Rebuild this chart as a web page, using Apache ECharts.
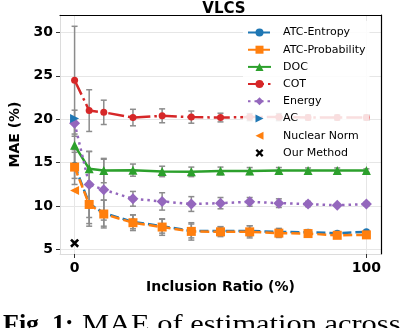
<!DOCTYPE html>
<html>
<head>
<meta charset="utf-8">
<script src="https://cdn.jsdelivr.net/npm/echarts@6/dist/echarts.min.js"></script>
<style>
  html, body { margin: 0; padding: 0; background: #fff; }
  #chart { width: 402px; height: 328px; }
</style>
</head>
<body>
<div id="chart"></div>
<script>
// inclusion ratio (%)
var xs = [0, 5, 10, 20, 30, 40, 50, 60, 70, 80, 90, 100];
var xTicks = [0, 100];
var yTicks = [5, 10, 15, 20, 25, 30];

// MAE (%) per method, with error (half-width)
var atcEntropy = [14.7, 10.3, 9.2, 8.2, 7.7, 7.15, 7.15, 7.15, 7.05, 7.0, 6.9, 7.05];
var atcEntropyErr = [1.5, 2.3, 1.5, 0.8, 0.8, 0.8, 0.5, 0.6, 0.4, 0.3, 0.2, 0.2];
var atcProb = [14.5, 10.2, 9.1, 8.1, 7.6, 7.1, 7.05, 7.05, 6.9, 6.85, 6.65, 6.7];
var atcProbErr = [2.0, 2.5, 1.6, 0.9, 0.95, 1.0, 0.55, 0.7, 0.5, 0.3, 0.15, 0.15];
var doc = [17.0, 14.3, 14.1, 14.15, 14.0, 13.95, 14.05, 14.05, 14.1, 14.1, 14.1, 14.1];
var docErr = [2.5, 2.0, 1.4, 0.7, 0.6, 0.55, 0.45, 0.4, 0.35, 0.3, 0.3, 0.2];
var cot = [24.5, 21.0, 20.8, 20.2, 20.4, 20.25, 20.2, 20.25, 20.25, 20.2, 20.2, 20.2];
var cotErr = [6.2, 2.4, 1.4, 0.95, 0.8, 0.7, 0.5, 0.4, 0.4, 0.3, 0.3, 0.3];
var energy = [19.55, 12.5, 11.9, 10.85, 10.55, 10.25, 10.35, 10.5, 10.35, 10.25, 10.1, 10.25];
var energyErr = [1.5, 3.8, 3.5, 0.85, 1.0, 0.85, 0.65, 0.5, 0.5, 0.3, 0.1, 0.2];

// single-point methods at ratio 0
var acVal = [20.1];
var nuclearVal = [11.8];
var oursVal = [5.75];

var C = {
	blue : '#1f77b4',
	orange : '#ff7f0e',
	green : '#2ca02c',
	red : '#d62728',
	purple : '#9467bd'
};
var xShape = 'path://M2,0 L5,3 L8,0 L10,2 L7,5 L10,8 L8,10 L5,7 L2,10 L0,8 L3,5 L0,2 Z';

function pairs(vals) {
	return vals.map(function(v, i) { return [xs[i], v]; });
}
function errData(vals, errs) {
	return xs.map(function(x, i) { return [x, vals[i] - errs[i], vals[i] + errs[i]]; });
}
function renderErr(params, api) {
	var x = api.value(0);
	var lo = api.coord([x, api.value(1)]);
	var hi = api.coord([x, api.value(2)]);
	var hw = 3;
	var st = { stroke : '#8c8c8c', lineWidth : 1.5 };
	return {
		type : 'group',
		children : [
			{ type : 'line', shape : { x1 : lo[0], y1 : lo[1], x2 : hi[0], y2 : hi[1] }, style : st },
			{ type : 'line', shape : { x1 : lo[0] - hw, y1 : lo[1], x2 : lo[0] + hw, y2 : lo[1] }, style : st },
			{ type : 'line', shape : { x1 : hi[0] - hw, y1 : hi[1], x2 : hi[0] + hw, y2 : hi[1] }, style : st }
		]
	};
}
function errSeries(vals, errs) {
	return {
		type : 'custom',
		renderItem : renderErr,
		data : errData(vals, errs),
		encode : { x : 0, y : [1, 2] },
		z : 1,
		silent : true,
		clip : true
	};
}
function lineSeries(name, vals, color, dash, symbol, size) {
	return {
		name : name,
		type : 'line',
		data : pairs(vals),
		symbol : symbol,
		symbolSize : size,
		itemStyle : { color : color },
		lineStyle : { color : color, width : 2.5, type : dash },
		z : 3
	};
}
function pointSeries(name, vals, color, symbol, rotate, size) {
	return {
		name : name,
		type : 'line',
		data : pairs(vals),
		symbol : symbol,
		symbolRotate : rotate,
		symbolSize : size,
		showAllSymbol : true,
		itemStyle : { color : color },
		lineStyle : { width : 0, opacity : 0 },
		z : 4
	};
}

var gridLines = yTicks.map(function(v) { return { yAxis : v }; })
	.concat(xTicks.map(function(v) { return { xAxis : v }; }));

var series = [
	{
		type : 'custom',
		renderItem : function() { return { type : 'group', children : [] }; },
		data : [],
		z : 0,
		silent : true,
		markLine : {
			z : 0,
			silent : true,
			symbol : 'none',
			label : { show : false },
			lineStyle : { color : '#e6e6e6', width : 1, type : 'solid' },
			data : gridLines
		}
	},
	errSeries(atcEntropy, atcEntropyErr),
	errSeries(atcProb, atcProbErr),
	errSeries(doc, docErr),
	errSeries(cot, cotErr),
	errSeries(energy, energyErr),
	lineSeries('ATC-Entropy', atcEntropy, C.blue, [9, 4], 'circle', 7),
	lineSeries('ATC-Probability', atcProb, C.orange, [9, 4], 'rect', 9),
	lineSeries('DOC', doc, C.green, 'solid', 'triangle', 9),
	lineSeries('COT', cot, C.red, [16, 4, 2.5, 4], 'circle', 7),
	lineSeries('Energy', energy, C.purple, [2.5, 4], 'diamond', 11),
	pointSeries('AC', acVal, C.blue, 'triangle', -90, 9),
	pointSeries('Nuclear Norm', nuclearVal, C.orange, 'triangle', 90, 9),
	pointSeries('Our Method', oursVal, '#000', xShape, 0, 9)
];

var chart = echarts.init(document.getElementById('chart'), null, { renderer : 'canvas' });
var boldFont = 'DejaVu Sans';
chart.setOption({
	animation : false,
	title : {
		text : 'VLCS',
		left : 219,
		top : -3,
		textAlign : 'center',
		textStyle : { fontFamily : boldFont, fontWeight : 'bold', fontSize : 15, color : '#000' }
	},
	grid : { left : 57, right : 21, top : 15, bottom : 74 },
	legend : {
		data : ['ATC-Entropy', 'ATC-Probability', 'DOC', 'COT', 'Energy', 'AC', 'Nuclear Norm', 'Our Method'],
		orient : 'vertical',
		left : 243,
		top : 21,
		padding : [6, 4, 4, 4],
		itemWidth : 23,
		itemHeight : 10,
		itemGap : 6.2,
		backgroundColor : 'rgba(255,255,255,0.85)',
		textStyle : { fontFamily : 'DejaVu Sans', fontSize : 11, color : '#000', padding : [0, 0, 0, 7] }
	},
	xAxis : [
		{
			type : 'value', min : -5, max : 105, position : 'bottom',
			name : 'Inclusion Ratio (%)', nameLocation : 'middle', nameGap : 26,
			nameTextStyle : { fontFamily : boldFont, fontWeight : 'bold', fontSize : 14, color : '#000' },
			axisLine : { onZero : false, lineStyle : { color : '#dcdcdc', width : 1 } },
			axisTick : { show : true, customValues : xTicks, length : 4, lineStyle : { color : '#333' } },
			axisLabel : { customValues : xTicks, margin : 7, fontFamily : boldFont, fontWeight : 'bold', fontSize : 14, color : '#000' },
			splitLine : { show : false }
		},
		{
			type : 'value', min : -5, max : 105, position : 'top',
			axisLine : { show : true, onZero : false, lineStyle : { color : '#000', width : 1.2 } },
			axisTick : { show : false }, axisLabel : { show : false }, splitLine : { show : false }
		}
	],
	yAxis : [
		{
			type : 'value', min : 4.5, max : 32, position : 'left',
			name : 'MAE (%)', nameLocation : 'middle', nameGap : 38,
			nameTextStyle : { fontFamily : boldFont, fontWeight : 'bold', fontSize : 14, color : '#000' },
			axisLine : { show : true, onZero : false, lineStyle : { color : '#dcdcdc', width : 1 } },
			axisTick : { show : true, customValues : yTicks, length : 4, lineStyle : { color : '#333' } },
			axisLabel : { customValues : yTicks, margin : 7, fontFamily : boldFont, fontWeight : 'bold', fontSize : 14, color : '#000' },
			splitLine : { show : false }
		},
		{
			type : 'value', min : 4.5, max : 32, position : 'right',
			axisLine : { show : true, onZero : false, lineStyle : { color : '#000', width : 1.2 } },
			axisTick : { show : false }, axisLabel : { show : false }, splitLine : { show : false }
		}
	],
	graphic : [
		{
			type : 'text',
			left : 3,
			top : 312,
			style : {
				text : 'Fig. 1:',
				font : 'bold 26px "Liberation Serif"',
				fill : '#000'
			}
		},
		{
			type : 'text',
			x : 82,
			y : 312,
			scaleX : 1.17,
			style : {
				text : 'MAE of estimation across',
				font : '26px "Liberation Serif"',
				fill : '#000'
			}
		}
	],
	series : series
});
</script>
</body>
</html>
